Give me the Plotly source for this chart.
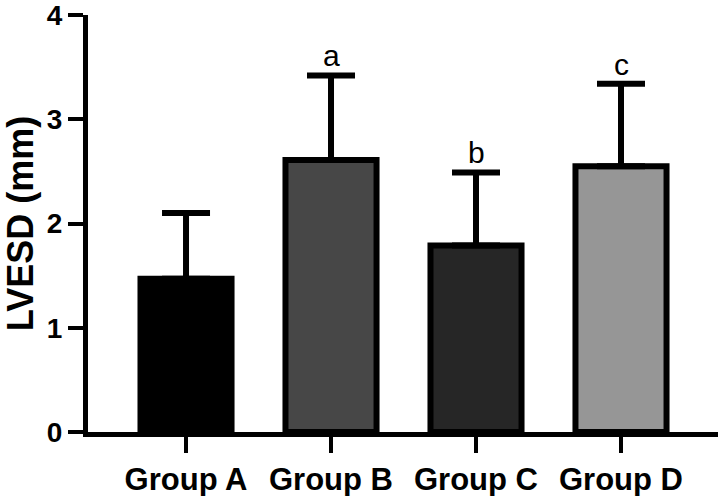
import plotly.graph_objects as go

groups = ["Group A", "Group B", "Group C", "Group D"]
means = [1.47, 2.61, 1.79, 2.55]
sds = [0.63, 0.81, 0.70, 0.79]
letters = ["", "a", "b", "c"]
colors = ["#000000", "#474747", "#262626", "#969696"]
y_ticks = [0, 1, 2, 3, 4]

font_fam = "Liberation Sans, Arial"

fig = go.Figure()
fig.add_trace(go.Bar(
    x=groups, y=means, width=0.628,
    marker=dict(color=colors, line=dict(color="#000000", width=6)),
    error_y=dict(type="data", array=sds, arrayminus=[0] * len(sds), symmetric=False,
                 color="#000000", thickness=6, width=24),
    showlegend=False,
))

for g, m, s, l in zip(groups, means, sds, letters):
    if l:
        fig.add_annotation(x=g, y=m + s, text=l, showarrow=False, yanchor="bottom", yshift=1,
                           font=dict(family=font_fam, size=30, color="#000000"))

fig.update_layout(
    width=725, height=496,
    margin=dict(l=88, r=7, t=15, b=64),
    plot_bgcolor="white", paper_bgcolor="white",
)
fig.update_xaxes(
    range=[-0.676, 3.669], showline=True, linecolor="#000000", linewidth=5,
    ticks="outside", ticklen=16, tickwidth=4, tickcolor="#000000",
    tickfont=dict(family=font_fam, size=31, color="#000000", weight="bold"),
    showgrid=False, zeroline=False, automargin=False, ticklabeloverflow="allow",
)
fig.update_yaxes(
    range=[0, 4], tickvals=y_ticks, showline=True, linecolor="#000000", linewidth=5,
    ticks="outside", ticklen=15, tickwidth=4, tickcolor="#000000",
    tickfont=dict(family=font_fam, size=28, color="#000000", weight="bold"),
    title=dict(text="LVESD (mm)", standoff=10,
               font=dict(family=font_fam, size=36, color="#000000", weight="bold")),
    showgrid=False, zeroline=False, automargin=False, ticklabeloverflow="allow",
)

fig.write_html("out.html", config={"displayModeBar": False},
               post_script="document.body.style.margin='0';document.body.style.overflow='hidden';")
